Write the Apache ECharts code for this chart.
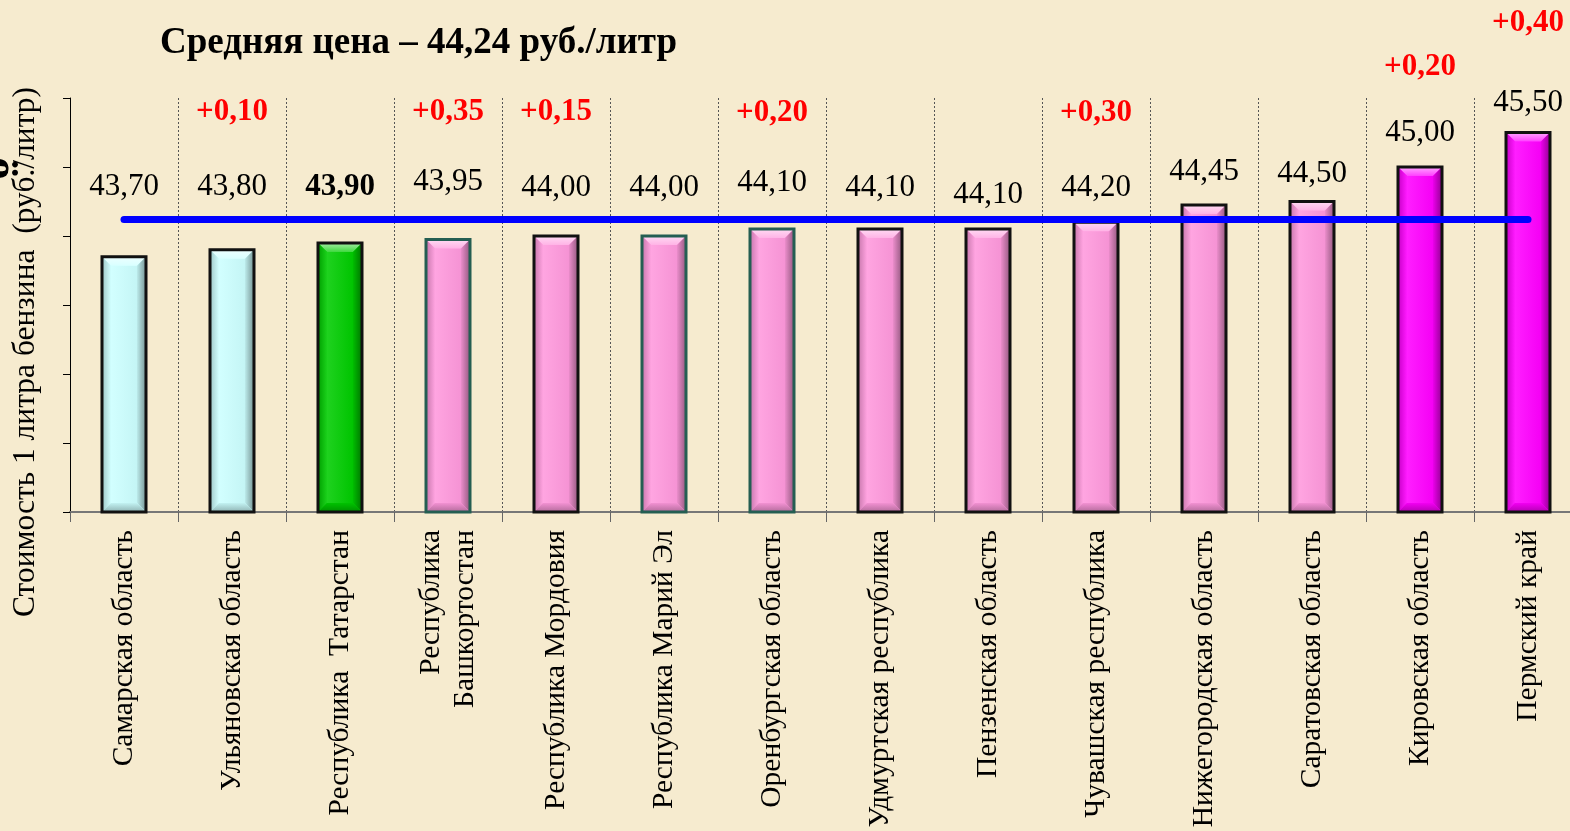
<!DOCTYPE html>
<html><head><meta charset="utf-8">
<script src="https://cdn.jsdelivr.net/npm/echarts@6/dist/echarts.min.js"></script>
<style>html,body{margin:0;padding:0;background:#f6ebcf}#c{width:1570px;height:831px}</style>
</head><body><div id="c"></div>
<script>
// ---- data ----
const regions = ['Самарская область','Ульяновская область','Республика  Татарстан','Республика\nБашкортостан','Республика Мордовия','Республика Марий Эл','Оренбургская область','Удмуртская республика','Пензенская область','Чувашская республика','Нижегородская область','Саратовская область','Кировская область','Пермский край'];
const prices = [43.70, 43.80, 43.90, 43.95, 44.00, 44.00, 44.10, 44.10, 44.10, 44.20, 44.45, 44.50, 45.00, 45.50];
const changes = [null, 0.10, null, 0.35, 0.15, null, 0.20, null, null, 0.30, null, null, 0.20, 0.40];
const averagePrice = 44.24;
const yMin = 40, yMax = 46, yInterval = 1;
const titleText = 'Средняя цена – 44,24 руб./литр';
const yName = 'Стоимость 1 литра бензина  (руб./литр)';

// ---- styling (not data) ----
const CYAN = '#ccffff', GREEN = '#00cc00', PINK = '#ff99dd', MAG = '#ff00ff';
const fillColors = [CYAN, CYAN, GREEN, PINK, PINK, PINK, PINK, PINK, PINK, PINK, PINK, PINK, MAG, MAG];
const TEAL = '#245e52', BLK = '#111111';
const borderColors = [BLK, BLK, BLK, TEAL, BLK, TEAL, TEAL, BLK, BLK, BLK, BLK, BLK, BLK, BLK];
const valueLift = [70, 63, 56, 58, 48, 48, 46, 41, 34, 34, 33, 28, 34, 30];
const changeLift = [0, 138, 0, 127, 124, 0, 116, 0, 0, 109, 0, 0, 100, 110];
const boldValue = [false, false, true, false, false, false, false, false, false, false, false, false, false, false];
const SERIF = '"Liberation Serif", "Times New Roman", serif';

function hexToRgb(h){h=h.replace('#','');return [parseInt(h.substr(0,2),16),parseInt(h.substr(2,2),16),parseInt(h.substr(4,2),16)];}
function mix(h, t, k){const a=hexToRgb(h), b=hexToRgb(t);return 'rgb('+a.map((v,i)=>Math.round(v+(b[i]-v)*k)).join(',')+')';}
function fmt(v){return v.toFixed(2).replace('.', ',');}

const chart = echarts.init(document.getElementById('c'), null, {renderer:'canvas'});

const option = {
  backgroundColor: '#f6ebcf',
  animation: false,
  grid: {left: 70, top: 98, width: 1512, height: 414, containLabel: false, outerBoundsMode: 'none'},
  xAxis: {
    type: 'category', data: regions, boundaryGap: true,
    axisLine: {show: true, lineStyle: {color: '#777', width: 2}},
    axisTick: {show: true, length: 10, lineStyle: {color: '#666', width: 1}},
    splitLine: {show: true, lineStyle: {color: '#555', width: 1, type: [2, 2]}},
    axisLabel: {interval: 0, rotate: 90, margin: 18, fontSize: 29.5, lineHeight: 34, fontFamily: SERIF, color: '#000'}
  },
  yAxis: {
    type: 'value', min: yMin, max: yMax, interval: yInterval,
    axisLine: {show: true, lineStyle: {color: '#000', width: 1}},
    axisTick: {show: true, length: 7, lineStyle: {color: '#000'}},
    axisLabel: {show: false},
    splitLine: {show: false}
  },
  graphic: [
    {type: 'text', x: 160, y: 43, z: 10, style: {text: titleText, font: 'bold 37px ' + SERIF, fill: '#000', align: 'left', verticalAlign: 'middle'}},
    {type: 'text', x: 26, y: 352, rotation: Math.PI / 2, z: 10,
      style: {text: yName, font: '31.5px ' + SERIF, fill: '#000', align: 'center', verticalAlign: 'middle'}},
    {type: 'text', x: -2, y: 168, rotation: -Math.PI / 2, z: 10,
      style: {text: 'ё', font: 'bold 50px ' + SERIF, fill: '#000', align: 'center', verticalAlign: 'middle'}}
  ],
  series: [{
    type: 'custom',
    clip: false,
    data: prices.map((v, i) => [i, v]),
    renderItem: function (params, api) {
      const i = api.value(0), v = api.value(1);
      const p = api.coord([i, v]);
      const b = api.coord([i, yMin]);
      const w = 44, bv = 9;
      const x = p[0] - w / 2, y = p[1], h = b[1] - p[1];
      const c = fillColors[i];
      const lin = (x1, y1, x2, y2, c1, c2) => ({type: 'linear', x: x1, y: y1, x2: x2, y2: y2, colorStops: [{offset: 0, color: c1}, {offset: 1, color: c2}]});
      const ch = [
        {type: 'rect', shape: {x: x, y: y, width: w, height: h}, style: {fill: c}},
        {type: 'rect', shape: {x: x + bv, y: y + bv, width: w - 2 * bv, height: h - 2 * bv},
          style: {fill: lin(0, 0, 1, 0, mix(c, '#ffffff', 0.12), mix(c, '#000000', 0.04))}},
        {type: 'polygon', shape: {points: [[x, y], [x + w, y], [x + w - bv, y + bv], [x + bv, y + bv]]},
          style: {fill: lin(0, 0, 0, 1, mix(c, '#ffffff', 0.65), mix(c, '#ffffff', 0.25))}},
        {type: 'polygon', shape: {points: [[x, y], [x + bv, y + bv], [x + bv, y + h - bv], [x, y + h]]},
          style: {fill: lin(0, 0, 1, 0, mix(c, '#000000', 0.22), mix(c, '#ffffff', 0.1))}},
        {type: 'polygon', shape: {points: [[x + w, y], [x + w, y + h], [x + w - bv, y + h - bv], [x + w - bv, y + bv]]},
          style: {fill: lin(0, 0, 1, 0, mix(c, '#000000', 0.08), mix(c, '#000000', 0.42))}},
        {type: 'polygon', shape: {points: [[x, y + h], [x + w, y + h], [x + w - bv, y + h - bv], [x + bv, y + h - bv]]},
          style: {fill: lin(0, 0, 0, 1, mix(c, '#000000', 0.05), mix(c, '#000000', 0.3))}},
        {type: 'rect', shape: {x: x, y: y, width: w, height: h}, style: {fill: 'none', stroke: borderColors[i], lineWidth: 3}},
        {type: 'text', x: p[0], y: y - valueLift[i], z2: 20,
          style: {text: fmt(v), font: (boldValue[i] ? 'bold ' : '') + '31px ' + SERIF, fill: '#000', align: 'center', verticalAlign: 'middle'}}
      ];
      if (changes[i] != null) {
        ch.push({type: 'text', x: p[0], y: y - changeLift[i], z2: 20,
          style: {text: '+' + fmt(changes[i]), font: 'bold 31px ' + SERIF, fill: '#ff0000', align: 'center', verticalAlign: 'middle'}});
      }
      return {type: 'group', children: ch};
    },
    markLine: {
      silent: true, symbol: 'none', label: {show: false},
      lineStyle: {color: '#0000ff', width: 7, type: 'solid', cap: 'round'},
      data: [[{coord: [0, averagePrice]}, {coord: [regions.length - 1, averagePrice]}]]
    },
    z: 3
  }]
};
chart.setOption(option);
</script>
</body></html>
